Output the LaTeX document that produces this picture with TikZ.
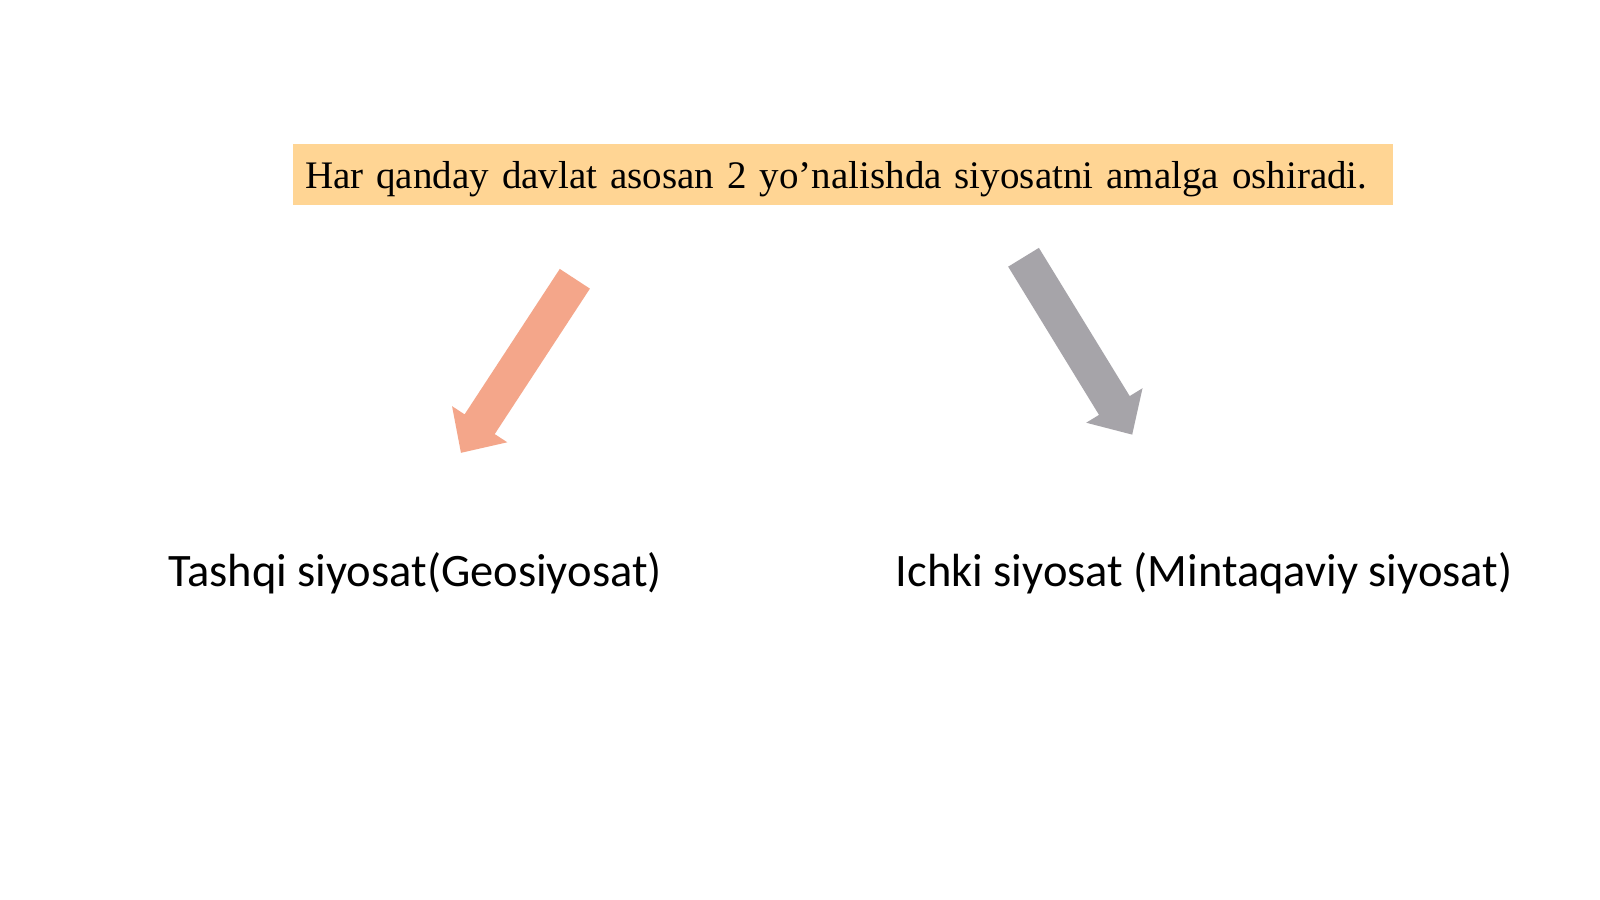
\documentclass[tikz,border=0pt]{standalone}
\usepackage{fontspec}
\setmainfont{Liberation Serif}
\newfontfamily\labelfont{Carlito}
\usetikzlibrary{shapes.arrows, positioning}
\usepackage{xcolor}
\definecolor{titlefill}{RGB}{255,213,148}
\definecolor{salmonarrow}{RGB}{244,166,138}
\definecolor{greyarrow}{RGB}{166,164,169}

\tikzset{
  bigarrow/.style={single arrow, draw=none, inner xsep=0pt, inner ysep=8.8pt,
    minimum height=104pt, single arrow head extend=7.5pt, single arrow tip angle=88},
  branchtext/.style={font=\labelfont\fontsize{23.25pt}{28pt}\selectfont, text=black, inner sep=0pt}
}

\begin{document}
\begin{tikzpicture}[x=0.5pt, y=-0.5pt]
\useasboundingbox[fill=white] (0,0) rectangle (1600,899);

\node[fill=titlefill, minimum height=30.5pt, text width=538pt, inner xsep=6pt, align=left,
  text depth=0pt, font=\fontsize{19.5pt}{23pt}\selectfont] (title) at (843,174.5)
  {Har qanday davlat asosan 2 yo’nalishda siyosatni amalga oshiradi.};

\node[bigarrow, fill=salmonarrow, rotate=236.8] (arrowL) at (523,358) {};
\node[bigarrow, fill=greyarrow, rotate=-58.5] (arrowR) at (1073,338) {};

\node[branchtext] (foreign) at (415,573) {Tashqi siyosat(Geosiyosat)};
\node[branchtext] (domestic) at (1204,573) {Ichki siyosat (Mintaqaviy siyosat)};
\end{tikzpicture}
\end{document}
